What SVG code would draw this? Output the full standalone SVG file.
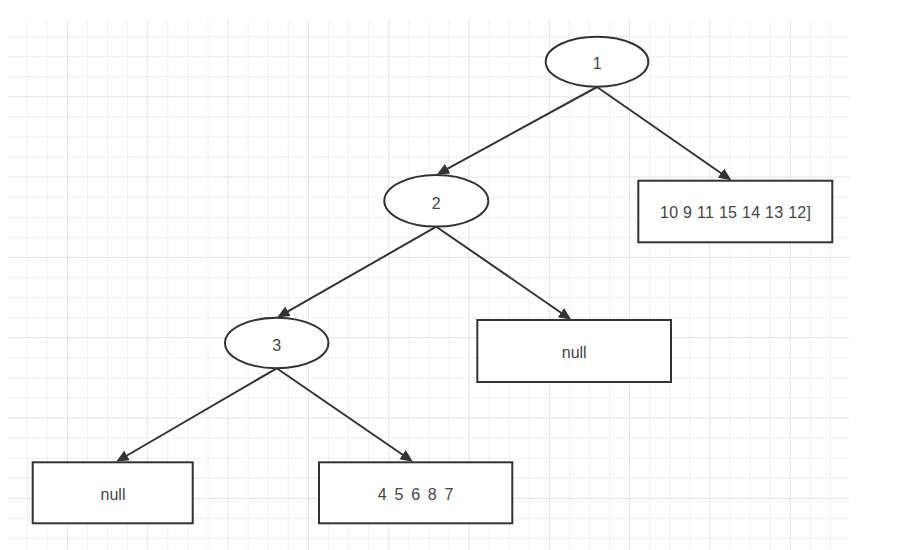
<svg xmlns="http://www.w3.org/2000/svg" width="912" height="550" viewBox="0 0 912 550">
<style>
.minor{stroke:#f0f0f0;stroke-width:1;fill:none}
.major{stroke:#e4e4e4;stroke-width:1;fill:none}
.shape{fill:#ffffff;stroke:#333333;stroke-width:2}
.lbl{font-family:"Liberation Sans",Helvetica,Arial,sans-serif;font-size:16px;fill:#454545;text-anchor:middle}
.edge{stroke:#333333;stroke-width:2;fill:none;marker-end:url(#arr)}
</style>
<defs>
<marker id="arr" viewBox="0 -6 13 12" refX="1" refY="0" markerWidth="13" markerHeight="12" markerUnits="userSpaceOnUse" orient="auto">
<path d="M0,-5.5 L12.5,0 L0,5.5 z" fill="#333333"/>
</marker>
</defs>
<rect width="912" height="550" fill="#ffffff"/>
<g id="grid">
<path class="minor" d="M27.2 20V550M47.3 20V550M87.5 20V550M107.6 20V550M127.6 20V550M167.8 20V550M187.9 20V550M208 20V550M248.1 20V550M268.2 20V550M288.3 20V550M328.4 20V550M348.5 20V550M368.6 20V550M408.8 20V550M428.8 20V550M448.9 20V550M489.1 20V550M509.2 20V550M529.2 20V550M569.4 20V550M589.5 20V550M609.6 20V550M649.7 20V550M669.8 20V550M689.9 20V550M730 20V550M750.1 20V550M770.2 20V550M810.4 20V550M830.4 20V550
M8 36.5H849M8 56.6H849M8 76.7H849M8 116.9H849M8 136.9H849M8 157H849M8 197.2H849M8 217.3H849M8 237.3H849M8 277.5H849M8 297.6H849M8 317.7H849M8 357.8H849M8 377.9H849M8 398H849M8 438.1H849M8 458.2H849M8 478.3H849M8 518.5H849M8 538.5H849"/>
<path class="major" d="M67.4 20V550M147.7 20V550M228 20V550M308.4 20V550M388.7 20V550M469 20V550M549.3 20V550M629.6 20V550M710 20V550M790.3 20V550
M8 96.8H849M8 177.1H849M8 257.4H849M8 337.7H849M8 418.1H849M8 498.4H849"/>
</g>
<g id="connectors">
<path class="edge" d="M597 87L446.8 169.2"/>
<path class="edge" d="M597 87L721.9 173.7"/>
<path class="edge" d="M436.3 226.7L287.1 311.8"/>
<path class="edge" d="M436.3 226.7L561.8 313.2"/>
<path class="edge" d="M276.7 368.3L126.1 456"/>
<path class="edge" d="M276.7 368.3L403.4 455.2"/>
</g>
<g id="n1">
<ellipse class="shape" cx="597" cy="61.7" rx="51.3" ry="25"/>
<text class="lbl" x="597.3" y="69">1</text>
</g>
<g id="n2">
<ellipse class="shape" cx="436.3" cy="200.8" rx="52" ry="25.8"/>
<text class="lbl" x="436.3" y="208.5">2</text>
</g>
<g id="n3">
<ellipse class="shape" cx="276.7" cy="343" rx="51.7" ry="25.3"/>
<text class="lbl" x="276.7" y="350.5">3</text>
</g>
<g id="r1">
<rect class="shape" x="638.3" y="180.7" width="194" height="61.6"/>
<text class="lbl" x="735.5" y="218.2" textLength="151" lengthAdjust="spacing">10 9 11 15 14 13 12]</text>
</g>
<g id="r2">
<rect class="shape" x="477.3" y="320" width="193.7" height="62"/>
<text class="lbl" x="574.2" y="358.2">null</text>
</g>
<g id="r3">
<rect class="shape" x="32.7" y="462.3" width="160" height="61"/>
<text class="lbl" x="113" y="499.8">null</text>
</g>
<g id="r4">
<rect class="shape" x="319" y="462.3" width="193.3" height="61"/>
<text class="lbl" x="415.6" y="499.8" textLength="75.5" lengthAdjust="spacing">4 5 6 8 7</text>
</g>
</svg>
